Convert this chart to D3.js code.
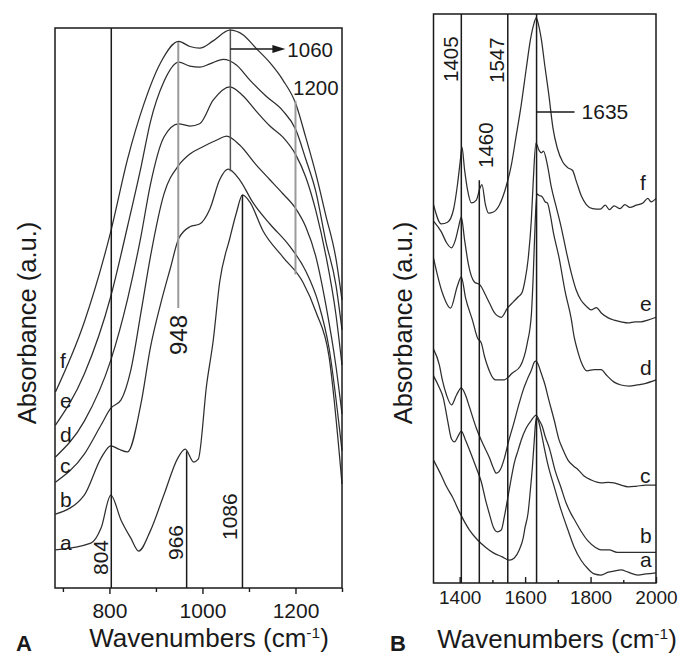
<!DOCTYPE html>
<html>
<head>
<meta charset="utf-8">
<script src="https://cdn.jsdelivr.net/npm/d3@7"></script>
<style>
  html, body { margin: 0; padding: 0; background: #fff; }
  svg { display: block; font-family: "Liberation Sans", Arial, Helvetica, sans-serif; }
</style>
</head>
<body>
<svg id="chart" width="682" height="657"></svg>
<script>
// ---------- Panel A: 683–1300 cm-1, spectra a–f as [wavenumber, absorbance a.u.] ----------
const spectrumA_a = [[684,6.8],[760,8.0],[782,10.7],[803,16.6],[825,12.1],[846,8.9],[863,6.6],[888,10.2],[917,16.6],[947,23.2],[963,24.8],[981,22.5],[991,23.0],[1009,36.3],[1023,44.1],[1037,54.6],[1059,62.5],[1073,67.0],[1086,70.2],[1102,68.9],[1130,63.8],[1173,59.1],[1216,54.6],[1244,49.3],[1272,41.4],[1300,18.6]];
const spectrumA_b = [[684,13.2],[746,16.6],[782,23.2],[803,25.4],[820,24.8],[839,24.3],[868,33.0],[888,42.9],[910,50.7],[931,57.1],[949,62.4],[973,64.5],[994,65.0],[1016,67.7],[1037,72.9],[1055,74.8],[1080,72.9],[1108,68.9],[1145,65.0],[1187,61.1],[1222,56.6],[1250,50.7],[1272,42.9],[1300,24.5]];
const spectrumA_c = [[684,18.9],[746,23.9],[782,29.1],[803,32.1],[825,33.6],[846,38.9],[868,49.3],[888,59.1],[917,70.3],[949,75.5],[973,77.5],[1001,78.8],[1031,80.0],[1052,80.7],[1080,79.1],[1116,75.5],[1145,72.9],[1173,70.4],[1201,67.7],[1222,64.5],[1244,59.1],[1265,50.7],[1287,39.6],[1300,31.1]];
const spectrumA_d = [[684,23.4],[746,29.8],[803,40.7],[839,51.6],[868,62.9],[888,72.0],[917,80.5],[949,82.9],[973,82.5],[994,82.9],[1023,87.1],[1059,89.5],[1087,87.9],[1115,85.2],[1145,82.5],[1173,80.5],[1201,77.3],[1222,73.4],[1244,67.3],[1265,59.5],[1287,48.8],[1300,39.8]];
const spectrumA_e = [[684,29.1],[746,38.2],[803,52.1],[839,64.6],[868,75.2],[888,83.2],[917,90.4],[949,93.9],[973,93.2],[994,93.0],[1016,93.6],[1045,94.4],[1073,93.4],[1102,90.7],[1137,87.8],[1173,85.2],[1201,81.8],[1222,76.6],[1244,70.7],[1265,62.0],[1287,54.1],[1300,46.1]];
const spectrumA_f = [[684,35.0],[746,47.5],[803,63.7],[839,76.6],[874,86.4],[910,93.8],[949,97.6],[973,96.7],[994,96.4],[1023,97.7],[1059,99.6],[1087,98.8],[1115,96.4],[1145,93.8],[1173,90.7],[1201,86.4],[1222,80.5],[1244,73.9],[1265,66.6],[1287,58.8],[1300,51.4]];
const ticksA = [700, 800, 900, 1000, 1100, 1200, 1300];
const tickLabelsA = [800, 1000, 1200];
const bandsA = [804, 948, 966, 1060, 1086, 1200];

// ---------- Panel B: 1320–2000 cm-1 ----------
const spectrumB_a = [[1320,21.6],[1344,18.9],[1360,16.9],[1378,15.1],[1399,12.5],[1430,9.3],[1454,7.6],[1479,6.3],[1503,5.3],[1530,4.6],[1552,4.0],[1567,4.4],[1582,5.8],[1594,7.9],[1600,9.8],[1609,12.3],[1616,16.3],[1622,20.2],[1628,25.1],[1634,29.0],[1640,28.6],[1649,26.5],[1658,23.9],[1670,20.7],[1689,16.9],[1710,12.8],[1731,9.3],[1750,6.3],[1771,4.0],[1792,2.5],[1811,1.6],[1832,1.4],[1854,1.9],[1872,2.1],[1893,2.3],[1915,1.9],[1945,1.4],[1969,1.6],[2000,1.8]];
const spectrumB_b = [[1320,36.4],[1338,34.3],[1350,32.5],[1363,28.6],[1375,25.3],[1384,24.8],[1396,25.9],[1405,26.7],[1418,25.1],[1436,22.5],[1451,20.2],[1466,17.8],[1479,14.6],[1491,12.1],[1503,9.8],[1515,9.0],[1527,9.3],[1537,11.8],[1549,15.6],[1558,18.5],[1567,21.1],[1579,23.4],[1588,25.1],[1603,27.2],[1619,28.6],[1634,29.5],[1643,28.6],[1652,27.6],[1661,25.8],[1674,23.7],[1692,19.7],[1710,16.7],[1725,14.1],[1741,12.1],[1753,10.9],[1771,9.1],[1792,7.4],[1814,6.3],[1832,5.8],[1857,5.8],[1881,5.4],[1905,5.4],[1939,5.4],[1969,5.4],[2000,5.4]];
const spectrumB_c = [[1320,41.1],[1338,38.3],[1347,35.7],[1360,33.0],[1375,31.3],[1390,33.0],[1405,34.3],[1418,33.0],[1430,30.9],[1451,27.2],[1473,24.2],[1491,22.0],[1503,20.2],[1512,19.3],[1524,19.9],[1537,22.0],[1549,24.8],[1564,27.8],[1582,31.6],[1594,33.9],[1606,35.7],[1619,37.4],[1628,38.8],[1633,39.0],[1640,38.4],[1649,36.9],[1661,34.8],[1670,32.7],[1689,28.6],[1704,25.1],[1716,23.4],[1731,21.6],[1747,20.6],[1762,19.9],[1780,18.8],[1802,18.1],[1832,17.6],[1854,17.7],[1872,17.6],[1893,17.2],[1915,16.9],[1939,17.0],[1969,17.2],[2000,17.2]];
const spectrumB_d = [[1320,57.1],[1347,51.0],[1372,48.3],[1393,52.2],[1405,53.8],[1418,50.1],[1439,46.2],[1455,43.0],[1466,42.2],[1476,39.8],[1484,38.3],[1509,35.7],[1536,35.7],[1561,36.9],[1585,38.1],[1606,42.0],[1619,47.1],[1625,54.3],[1631,63.8],[1636,68.4],[1643,68.1],[1652,67.9],[1661,67.0],[1668,66.8],[1677,64.7],[1686,61.7],[1704,57.1],[1722,51.3],[1741,46.4],[1750,43.2],[1759,41.1],[1771,38.9],[1789,37.3],[1811,37.5],[1832,37.5],[1851,36.4],[1872,35.3],[1893,34.8],[1918,34.6],[1942,34.8],[1969,35.1],[2000,35.7]];
const spectrumB_e = [[1320,63.6],[1344,61.7],[1360,59.8],[1375,58.9],[1387,60.3],[1396,62.4],[1405,64.3],[1415,60.3],[1427,55.9],[1445,52.9],[1462,52.4],[1479,50.6],[1491,49.2],[1506,47.5],[1527,46.7],[1546,48.3],[1564,49.4],[1579,50.3],[1591,51.1],[1600,53.3],[1609,56.8],[1619,63.8],[1625,70.8],[1633,77.3],[1643,76.0],[1650,75.6],[1656,75.9],[1668,73.5],[1680,69.6],[1695,66.1],[1710,62.6],[1725,58.5],[1741,54.5],[1756,51.5],[1771,49.7],[1786,48.7],[1802,48.0],[1818,48.4],[1832,47.5],[1854,46.6],[1872,46.2],[1893,45.9],[1915,45.7],[1936,45.9],[1954,45.9],[1975,46.2],[2000,46.7]];
const spectrumB_f = [[1320,66.5],[1344,63.1],[1363,63.4],[1381,65.6],[1393,69.9],[1402,74.3],[1407,76.6],[1415,72.6],[1424,69.1],[1436,66.8],[1451,67.3],[1462,69.4],[1468,70.0],[1479,66.4],[1488,65.0],[1503,65.2],[1521,66.4],[1543,69.9],[1558,73.5],[1573,78.7],[1588,84.0],[1603,90.2],[1616,95.4],[1626,98.1],[1634,99.3],[1641,98.1],[1650,95.4],[1660,91.0],[1672,86.0],[1685,80.0],[1698,76.5],[1715,74.0],[1730,73.0],[1745,72.5],[1757,70.5],[1772,68.0],[1787,66.5],[1806,65.8],[1830,65.7],[1845,66.4],[1858,65.6],[1872,66.3],[1890,65.8],[1905,66.5],[1920,66.0],[1940,66.4],[1960,66.8],[1975,67.6],[1985,67.0],[2000,67.6]];
const ticksB = [1400, 1500, 1600, 1700, 1800, 1900, 2000];
const tickLabelsB = [1400, 1600, 1800, 2000];
const bandsB = [1405, 1460, 1547, 1635];

const seriesNames = ["a", "b", "c", "d", "e", "f"];
const seriesA = [spectrumA_a, spectrumA_b, spectrumA_c, spectrumA_d, spectrumA_e, spectrumA_f];
const seriesB = [spectrumB_a, spectrumB_b, spectrumB_c, spectrumB_d, spectrumB_e, spectrumB_f];

// ---------- scales ----------
const xA = d3.scaleLinear().domain([683, 1300]).range([55, 342]);
const yA = d3.scaleLinear().domain([0, 100]).range([588, 28]);
const xB = d3.scaleLinear().domain([1320, 2000]).range([433.5, 656]);
const yB = d3.scaleLinear().domain([0, 100]).range([583, 14]);

const svg = d3.select("#chart");
const INK = "#1a1a1a";
const CURVE = "#2e2e2e";
const GREY = "#9a9a9a";

// value of a spectrum at a given wavenumber (linear between samples)
function valueAt(spec, w) {
  const i = d3.bisector(d => d[0]).left(spec, w);
  if (i <= 0) return spec[0][1];
  if (i >= spec.length) return spec[spec.length - 1][1];
  const [w0, v0] = spec[i - 1], [w1, v1] = spec[i];
  return v0 + (v1 - v0) * (w - w0) / (w1 - w0);
}

function drawPanel(g, x, y, series, opts) {
  const line = d3.line().x(d => x(d[0])).y(d => y(d[1])).curve(d3.curveMonotoneX);
  const [x0, x1] = x.range(), [y0, y1] = y.range();
  g.append("g").selectAll("path").data(series).join("path")
    .attr("d", line)
    .attr("fill", "none")
    .attr("stroke", CURVE)
    .attr("stroke-width", 1.25)
    .attr("stroke-linejoin", "round");

  // frame
  g.append("rect")
    .attr("x", x0).attr("y", y1).attr("width", x1 - x0).attr("height", y0 - y1)
    .attr("fill", "none").attr("stroke", INK).attr("stroke-width", 1.5);

  // ticks
  const major = g.append("g").attr("transform", `translate(0,${y0})`)
    .call(d3.axisBottom(x).tickValues(opts.labels).tickSize(opts.majorSize).tickSizeOuter(0)
      .tickPadding(opts.pad).tickFormat(d3.format("d")));
  const minor = g.append("g").attr("transform", `translate(0,${y0})`)
    .call(d3.axisBottom(x).tickValues(opts.ticks.filter(t => !opts.labels.includes(t)))
      .tickSize(opts.minorSize).tickSizeOuter(0).tickFormat(""));
  [major, minor].forEach(a => {
    a.select(".domain").remove();
    a.selectAll("line").attr("stroke", INK).attr("stroke-width", 1.4);
  });
  major.selectAll("text")
    .attr("fill", INK)
    .style("font-family", "\"Liberation Sans\", Arial, sans-serif")
    .style("font-size", opts.tickFont + "px");
}

const gA = svg.append("g");
const gB = svg.append("g");

drawPanel(gA, xA, yA, seriesA, { ticks: ticksA, labels: tickLabelsA, majorSize: 6, minorSize: 4, pad: 9, tickFont: 21 });
drawPanel(gB, xB, yB, seriesB, { ticks: ticksB, labels: tickLabelsB, majorSize: -6, minorSize: -3, pad: 8, tickFont: 19 });

// ---------- band markers, panel A ----------
function vline(g, xp, ya, yb, color, width) {
  g.append("line").attr("x1", xp).attr("x2", xp).attr("y1", ya).attr("y2", yb)
    .attr("stroke", color).attr("stroke-width", width);
}
function rotLabel(g, xp, yp, text, size, color) {
  g.append("text").attr("transform", `translate(${xp},${yp}) rotate(-90)`)
    .attr("text-anchor", "start").attr("fill", color || INK)
    .style("font-size", size + "px").text(text);
}

const [b804, b948, b966, b1060, b1086, b1200] = bandsA;
const bottomA = yA.range()[0], topA = yA.range()[1];

vline(gA, xA(b804), topA, bottomA, INK, 1.5);
rotLabel(gA, xA(b804) - 3, 575, String(b804), 21);

vline(gA, xA(b966), yA(valueAt(spectrumA_a, b966)), bottomA, INK, 1.5);
rotLabel(gA, xA(b966) - 4, 560, String(b966), 21);

vline(gA, xA(b1086), yA(valueAt(spectrumA_a, b1086)), bottomA, INK, 1.5);
rotLabel(gA, xA(b1086) - 5, 540, String(b1086), 21);

vline(gA, xA(b948), yA(valueAt(spectrumA_f, b948)), yA(50), GREY, 2);
rotLabel(gA, xA(b948) + 9, 355, String(b948), 24);

vline(gA, xA(b1060), topA, yA(valueAt(spectrumA_b, b1060)), "#555", 1.5);
gA.append("line").attr("x1", xA(b1060)).attr("x2", xA(b1060) + 44).attr("y1", 49).attr("y2", 49)
  .attr("stroke", INK).attr("stroke-width", 1.3);
gA.append("path")
  .attr("d", `M${xA(b1060) + 42},45 L${xA(b1060) + 55},49 L${xA(b1060) + 42},53 Z`)
  .attr("fill", INK);
gA.append("text").attr("x", xA(b1060) + 57).attr("y", 57).attr("fill", INK)
  .style("font-size", "20.5px").text(String(b1060));

vline(gA, xA(b1200), yA(87), yA(56), GREY, 2);
gA.append("text").attr("x", xA(b1200) - 2.5).attr("y", 95).attr("fill", INK)
  .style("font-size", "20.5px").text(String(b1200));

// ---------- band markers, panel B ----------
const [b1405, b1460, b1547, b1635] = bandsB;
const bottomB = yB.range()[0], topB = yB.range()[1];

vline(gB, xB(b1405), topB, bottomB, INK, 1.5);
rotLabel(gB, xB(b1405) - 3, 82, String(b1405), 20.5);

vline(gB, xB(b1547), topB, bottomB, INK, 1.5);
rotLabel(gB, xB(b1547) - 4, 83, String(b1547), 20.5);

vline(gB, xB(b1460), yB(70.8), bottomB, INK, 1.5);
rotLabel(gB, xB(b1460) + 14, 168, String(b1460), 20.5);

vline(gB, xB(b1635), topB, bottomB, INK, 1.5);
gB.append("line").attr("x1", xB(b1635)).attr("x2", xB(b1635) + 38).attr("y1", 112).attr("y2", 112)
  .attr("stroke", INK).attr("stroke-width", 1.3);
gB.append("text").attr("x", xB(b1635) + 45).attr("y", 119).attr("fill", INK)
  .style("font-size", "21px").text(String(b1635));

// ---------- curve letters (baselines for a..f) ----------
const lettersAy = [550, 507, 473, 442, 408, 368];
seriesNames.forEach((n, i) => {
  gA.append("text").attr("x", 60).attr("y", lettersAy[i]).attr("fill", INK)
    .style("font-size", "21px").text(n);
});
const lettersBy = [567, 543, 483, 375, 311, 190];
seriesNames.forEach((n, i) => {
  gB.append("text").attr("x", 640).attr("y", lettersBy[i]).attr("fill", INK)
    .style("font-size", "21px").text(n);
});

// ---------- axis titles and panel letters ----------
function yTitle(xp) {
  svg.append("text").attr("transform", `translate(${xp},323) rotate(-90)`)
    .attr("text-anchor", "middle").attr("fill", INK)
    .style("font-size", "25.5px").text("Absorbance (a.u.)");
}
yTitle(36);
yTitle(412);

function xTitle(cx, by) {
  const t = svg.append("text").attr("x", cx).attr("y", by).attr("text-anchor", "middle")
    .attr("fill", INK).style("font-size", "26px");
  t.append("tspan").text("Wavenumbers (cm");
  t.append("tspan").attr("dy", -9).style("font-size", "15.5px").text("-1");
  t.append("tspan").attr("dy", 9).text(")");
}
xTitle(209, 647);
xTitle(557, 648);

svg.append("text").attr("x", 16).attr("y", 651).attr("fill", INK)
  .style("font-size", "22px").style("font-weight", "bold").text("A");
svg.append("text").attr("x", 390).attr("y", 651).attr("fill", INK)
  .style("font-size", "22px").style("font-weight", "bold").text("B");
</script>
</body>
</html>
